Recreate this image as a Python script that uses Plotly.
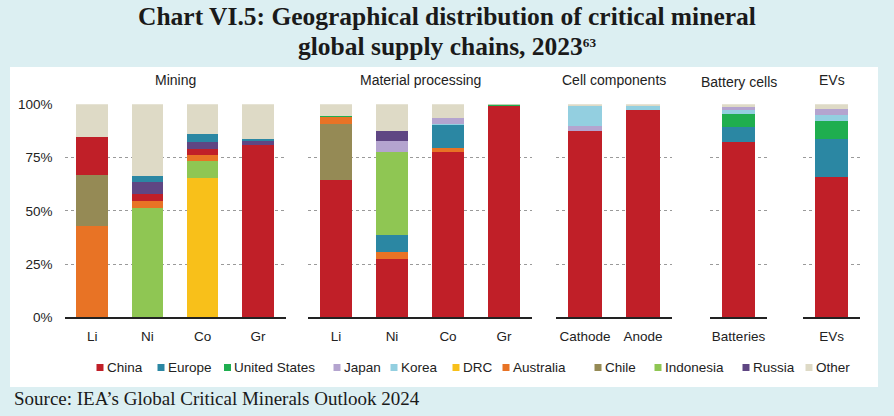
import plotly.graph_objects as go

W, H = 894, 416

# ---------------- data (percent shares) ----------------
mining_cats = ["Li", "Ni", "Co", "Gr"]
mining_order = ["DRC", "Indonesia", "Australia", "Chile", "China", "Russia", "Europe", "Other"]
mining = {
    "DRC":       [0, 0, 65.3, 0],
    "Indonesia": [0, 51.5, 8.1, 0],
    "Australia": [43.0, 3.1, 2.9, 0],
    "Chile":     [23.8, 0, 0, 0],
    "China":     [17.7, 3.4, 2.7, 81.0],
    "Russia":    [0, 5.4, 3.4, 2.0],
    "Europe":    [0, 2.9, 3.5, 0.6],
    "Other":     [15.5, 33.7, 14.1, 16.4],
}

proc_cats = ["Li", "Ni", "Co", "Gr"]
proc_order = ["China", "Chile", "Australia", "Europe", "Indonesia", "United States",
              "Korea", "Japan", "Russia", "Other"]
processing = {
    "China":         [64.5, 27.2, 77.5, 99.2],
    "Chile":         [26.2, 0, 0, 0],
    "Australia":     [3.3, 3.5, 1.8, 0],
    "Europe":        [0, 8.1, 11.0, 0],
    "Indonesia":     [0, 38.7, 0, 0],
    "United States": [0.6, 0, 0, 0.5],
    "Korea":         [0, 0, 0.5, 0],
    "Japan":         [0, 5.4, 2.8, 0],
    "Russia":        [0, 4.4, 0, 0],
    "Other":         [5.4, 12.7, 6.4, 0.3],
}

cell_cats = ["Cathode", "Anode"]
cell_order = ["China", "Japan", "Korea", "Other"]
cells = {
    "China": [87.5, 97.5],
    "Japan": [2.3, 0],
    "Korea": [9.4, 1.7],
    "Other": [0.8, 0.8],
}

batt_cats = ["Batteries"]
ev_cats = ["EVs"]
batt_order = ["China", "Europe", "United States", "Korea", "Japan", "Other"]
batteries = {
    "China": [82.4], "Europe": [6.8], "United States": [6.1],
    "Korea": [2.0], "Japan": [1.6], "Other": [1.1],
}
evs = {
    "China": [65.7], "Europe": [17.9], "United States": [8.6],
    "Korea": [2.8], "Japan": [2.8], "Other": [2.2],
}

panel_titles = ["Mining", "Material processing", "Cell components", "Battery cells", "EVs"]
y_ticks = [0, 25, 50, 75, 100]

legend_names = ["China", "Europe", "United States", "Japan", "Korea", "DRC",
                "Australia", "Chile", "Indonesia", "Russia", "Other"]
colors = {
    "China": "#c01f28",
    "Europe": "#2b87a3",
    "United States": "#1fae4f",
    "Japan": "#b4a4cf",
    "Korea": "#93cfe0",
    "DRC": "#f8c01a",
    "Australia": "#e87325",
    "Chile": "#958a55",
    "Indonesia": "#8fc653",
    "Russia": "#5f4683",
    "Other": "#dedac6",
}

# ---------------- layout helpers (pixel -> paper) ----------------
def px(x):
    return x / W

def py(y):
    return (H - y) / H

SANS = "Liberation Sans, Arial, sans-serif"
SERIF = "Liberation Serif, Times New Roman, serif"

panels = [
    (mining_cats, mining_order, mining, (64.5, 285.5)),
    (proc_cats, proc_order, processing, (308, 532)),
    (cell_cats, cell_order, cells, (556, 672)),
    (batt_cats, batt_order, batteries, (710, 767)),
    (ev_cats, batt_order, evs, (803, 860)),
]
y_dom = [py(317.3), py(104.3)]

fig = go.Figure()
layout = {}
for i, (cats, order, data, (x0, x1)) in enumerate(panels):
    n = i + 1
    xa = "x" if n == 1 else f"x{n}"
    ya = "y" if n == 1 else f"y{n}"
    for name in order:
        fig.add_trace(go.Bar(
            x=cats, y=data[name], name=name, xaxis=xa, yaxis=ya,
            marker=dict(color=colors[name], line=dict(width=0)),
            showlegend=False,
        ))
    xkey = "xaxis" if n == 1 else f"xaxis{n}"
    ykey = "yaxis" if n == 1 else f"yaxis{n}"
    layout[xkey] = dict(
        domain=[px(x0), px(x1)], anchor=ya, showline=True, linecolor="#222",
        linewidth=1.5, showgrid=False, ticks="", type="category", automargin=False,
        tickfont=dict(family=SANS, size=13.5, color="#222"),
        ticklabelstandoff=6,
    )
    layout[ykey] = dict(
        domain=y_dom, anchor=xa, range=[0, 100], tickvals=y_ticks,
        ticktext=[f"{v}%" for v in y_ticks], showticklabels=(n == 1),
        showgrid=True, gridcolor="#9a9a9a", griddash="dot", gridwidth=1,
        zeroline=False, ticks="", ticklabelstandoff=11, automargin=False,
        tickfont=dict(family=SANS, size=13.5, color="#222"),
    )

fig.update_layout(**layout)

shapes = [dict(type="rect", xref="paper", yref="paper",
               x0=px(10), x1=px(878), y0=py(387), y1=py(67),
               fillcolor="white", line=dict(width=0), layer="below")]
annotations = []

# panel titles
title_y = [80, 80, 80, 82, 80]
for (cats, order, data, (x0, x1)), t, ty in zip(panels, panel_titles, title_y):
    annotations.append(dict(text=t, xref="paper", yref="paper", x=px((x0 + x1) / 2),
                            y=py(ty), showarrow=False, xanchor="center", yanchor="middle",
                            font=dict(family=SANS, size=14, color="#222")))

# custom legend
legend_x = [100, 161, 227.5, 337, 394, 456, 506, 598, 658, 746, 809]
leg_y = 367.5
for name, lx in zip(legend_names, legend_x):
    shapes.append(dict(type="rect", xref="paper", yref="paper",
                       x0=px(lx - 3.5), x1=px(lx + 3.5), y0=py(leg_y + 3.5), y1=py(leg_y - 3.5),
                       fillcolor=colors[name], line=dict(width=0)))
    annotations.append(dict(text=name, xref="paper", yref="paper", x=px(lx + 4.5), y=py(leg_y),
                            showarrow=False, xanchor="left", yanchor="middle",
                            font=dict(family=SANS, size=13.5, color="#222")))

# title and source
annotations.append(dict(
    text="<b>Chart VI.5: Geographical distribution of critical mineral</b>",
    xref="paper", yref="paper", x=0.5, y=py(17), showarrow=False,
    xanchor="center", yanchor="middle",
    font=dict(family=SERIF, size=25.5, color="#1a1a1a")))
annotations.append(dict(
    text="<b>global supply chains, 2023<span style='font-size:19px'><sup>63</sup></span></b>",
    xref="paper", yref="paper", x=0.5, y=py(46), showarrow=False,
    xanchor="center", yanchor="middle",
    font=dict(family=SERIF, size=25.5, color="#1a1a1a")))
annotations.append(dict(
    text="Source: IEA’s Global Critical Minerals Outlook 2024",
    xref="paper", yref="paper", x=px(12), y=py(398), showarrow=False,
    xanchor="left", yanchor="middle",
    font=dict(family=SERIF, size=19, color="#1a1a1a")))

fig.update_layout(
    width=W, height=H, margin=dict(l=0, r=0, t=0, b=0, pad=0, autoexpand=False),
    paper_bgcolor="#dceff2", plot_bgcolor="rgba(0,0,0,0)",
    barmode="stack", bargap=0.43, showlegend=False,
    shapes=shapes, annotations=annotations,
)

fig.write_html("out.html")
